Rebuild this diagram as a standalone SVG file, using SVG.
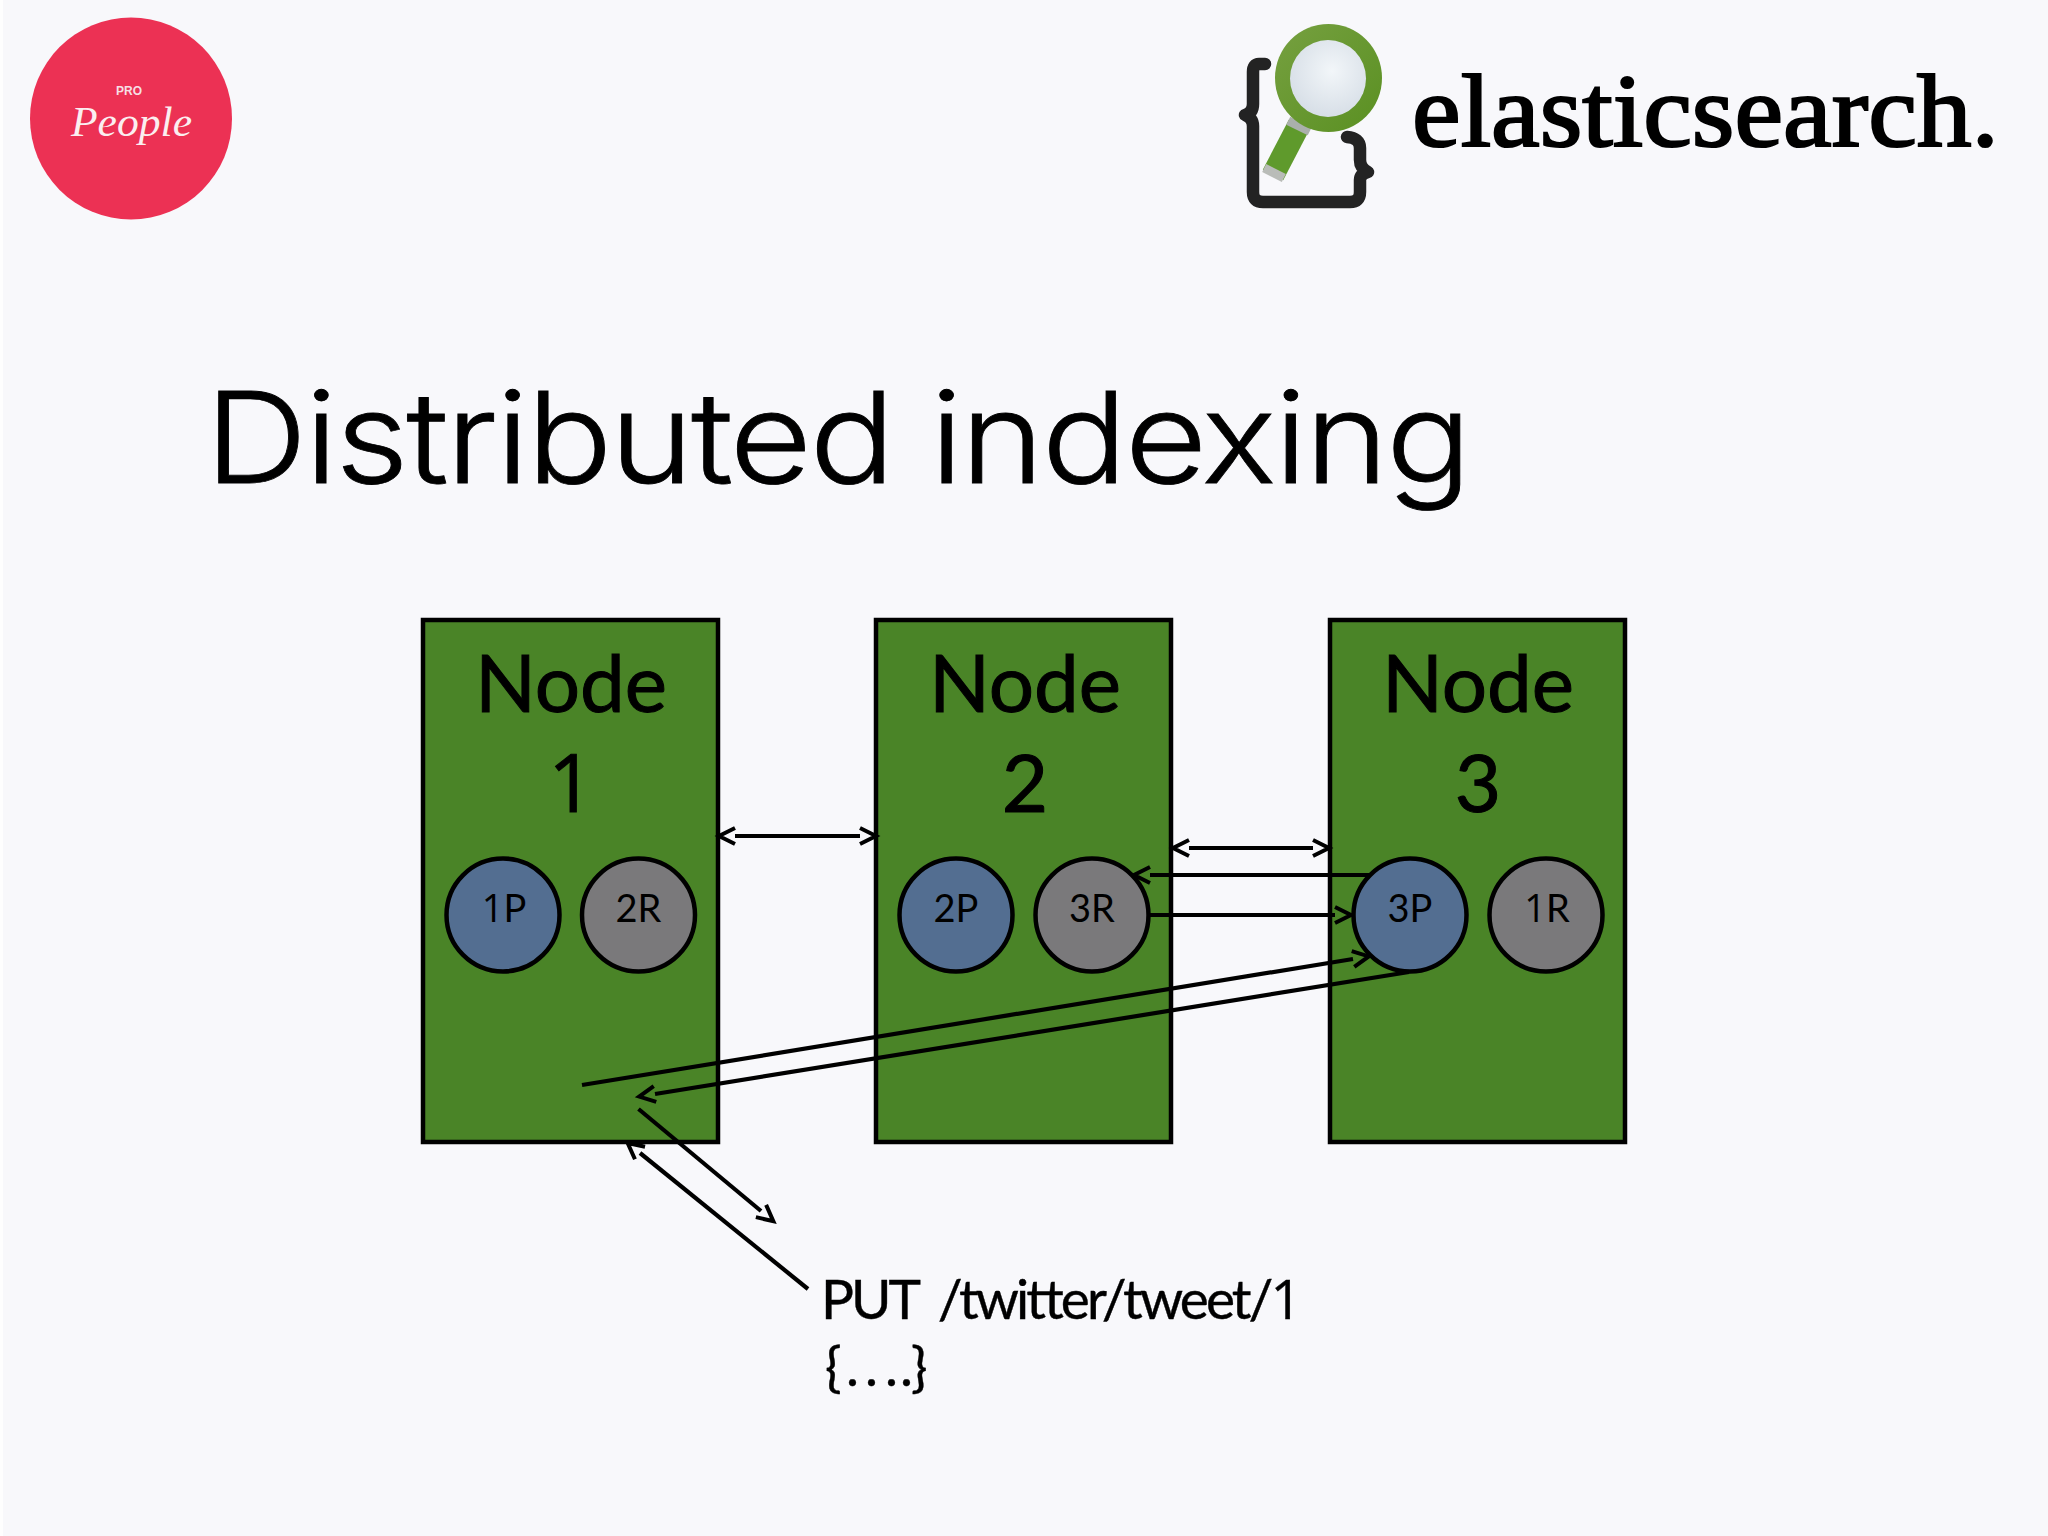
<svg xmlns="http://www.w3.org/2000/svg" width="2048" height="1536" viewBox="0 0 2048 1536">
<style>
.node{fill:#4a8427;stroke:#000;stroke-width:4.5}
.p{fill:#536e91;stroke:#000;stroke-width:4.5}
.r{fill:#7a797b;stroke:#000;stroke-width:4.5}
text{font-family:"Lato","Noto Sans",sans-serif;fill:#000}
.big{font-size:80px;text-anchor:middle;stroke:#000;stroke-width:1}
.sh{font-size:38px;text-anchor:middle}
.lbl{font-size:55px;stroke:#000;stroke-width:.4}
.one{font-family:"Open Sans","Noto Sans",sans-serif}
.c{fill:none;stroke:#000;stroke-width:4.2;marker-end:url(#a)}
.d{marker-start:url(#a)}
.bk{fill:none;stroke:#232323;stroke-linejoin:round;stroke-linecap:round}
</style>
<defs>
<marker id="a" markerUnits="userSpaceOnUse" markerWidth="20" markerHeight="20" refX="0" refY="10" viewBox="0 0 20 20" orient="auto-start-reverse" overflow="visible"><path d="M0,2 L16,10 L0,18" fill="none" stroke="#000" stroke-width="4"/></marker>
<linearGradient id="ring" x1="0" y1="0" x2="1" y2="1"><stop offset="0" stop-color="#76a040"/><stop offset="1" stop-color="#5a9022"/></linearGradient>
<radialGradient id="lens" cx="0.55" cy="0.4" r="0.7"><stop offset="0" stop-color="#f2f6f9"/><stop offset="1" stop-color="#d3dbe4"/></radialGradient>
</defs>
<rect width="2048" height="1536" fill="#f8f8fb"/>
<rect width="3" height="1536" fill="#fefefe"/>
<g id="logo-people">
<circle cx="131" cy="118.500" r="101" fill="#ec3154"/>
<text x="129" y="95" font-size="12" font-weight="700" text-anchor="middle" style="fill:#f6dfe3;font-family:'Liberation Sans',sans-serif">PRO</text>
<text x="71" y="136" font-size="42" font-style="italic" textLength="121" lengthAdjust="spacingAndGlyphs" style="fill:#fbeef0;font-family:'Liberation Serif',serif">People</text>
</g>
<g id="logo-elasticsearch">
<path class="bk" stroke-width="12.500" d="M1265,64 H1259 Q1253,64 1253,72 V104 Q1253,113 1245,115 Q1253,118 1253,126 V192 Q1253,202 1263,202 H1350 Q1360,202 1360,192 V180 Q1360,174 1368,172 Q1360,168 1360,160 V148 Q1360,138 1347,137"/>
<path d="M1299,125 L1273,175" stroke="#5f9a2c" stroke-width="23"/>
<path d="M1276,169 L1272,177" stroke="#b9bcb8" stroke-width="22"/>
<path d="M1301,122 L1297,130" stroke="#aab0ab" stroke-width="24"/>
<ellipse cx="1328.500" cy="78" rx="53.500" ry="54" fill="url(#ring)"/>
<ellipse cx="1328" cy="78.500" rx="38" ry="38.500" fill="url(#lens)"/>
<text x="1412" y="146" font-size="103" textLength="587" lengthAdjust="spacingAndGlyphs" style="font-family:'Liberation Serif',serif;stroke:#000;stroke-width:2.2">elasticsearch.</text>
</g>
<text id="title" transform="translate(205,483) scale(1.12,1)" font-size="127" textLength="1131" lengthAdjust="spacing" style="font-family:'Inter','Liberation Sans',sans-serif;font-weight:300;stroke:#000;stroke-width:.8">Distributed indexing</text>
<g id="node1">
<rect class="node" x="423" y="620" width="295" height="522"/>
<text class="big" x="571" y="712">Node</text><text class="big one" x="571" y="812">1</text>
</g>
<g id="node2">
<rect class="node" x="876" y="620" width="295" height="522"/>
<text class="big" x="1025" y="712">Node</text><text class="big" x="1025" y="812">2</text>
</g>
<g id="node3">
<rect class="node" x="1330" y="620" width="295" height="522"/>
<text class="big" x="1478" y="712">Node</text><text class="big" x="1478" y="812">3</text>
</g>
<g id="shard-1P"><circle class="p" cx="503" cy="915" r="56.500"/><text class="sh" x="504" y="922"><tspan class="one">1</tspan>P</text></g>
<g id="shard-2R"><circle class="r" cx="638.500" cy="915" r="56.500"/><text class="sh" x="638.500" y="922">2R</text></g>
<g id="shard-2P"><circle class="p" cx="956" cy="915" r="56.500"/><text class="sh" x="956" y="922">2P</text></g>
<g id="shard-3R"><circle class="r" cx="1092" cy="915" r="56.500"/><text class="sh" x="1092" y="922">3R</text></g>
<g id="shard-3P"><circle class="p" cx="1410" cy="915" r="56.500"/><text class="sh" x="1410" y="922">3P</text></g>
<g id="shard-1R"><circle class="r" cx="1546" cy="915" r="56.500"/><text class="sh" x="1547" y="922"><tspan class="one">1</tspan>R</text></g>
<g id="connectors">
<path class="c d" d="M735,836 H860"/>
<path class="c d" d="M1189,848 H1313"/>
<path class="c" d="M1369,875 H1150"/>
<path class="c" d="M1150,915 H1335"/>
<path class="c" d="M582,1085 L1353,959"/>
<path class="c" d="M1409,972 L655,1094"/>
<path class="c" d="M638.500,1109 L761,1211"/>
<path class="c" d="M808,1289 L640,1153"/>
</g>
<g id="request">
<text class="lbl" x="821" y="1319" textLength="481" lengthAdjust="spacing" word-spacing="10">PUT /twitter/tweet/<tspan class="one">1</tspan></text>
<text class="lbl" x="825 846 865 885 900 911" y="1386">{....}</text>
</g>
</svg>
